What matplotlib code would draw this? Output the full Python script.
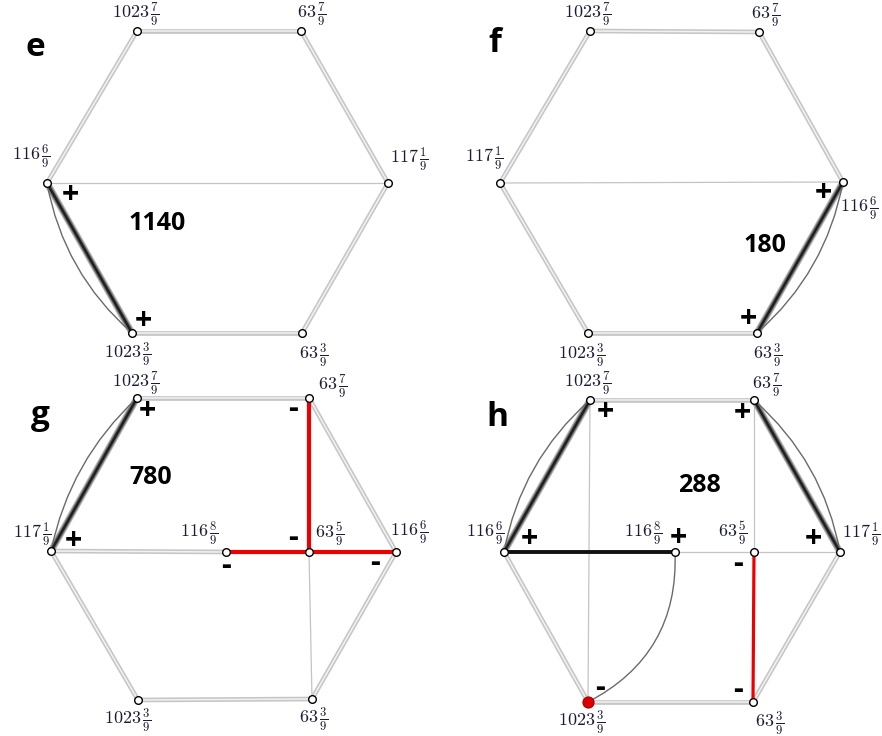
import numpy as np
import matplotlib
matplotlib.use('Agg')
import matplotlib.pyplot as plt
from matplotlib.path import Path
from matplotlib.patches import PathPatch

plt.rcParams['mathtext.fontset'] = 'cm'

# panel letters and the number written in each panel
panel_names = ['e', 'f', 'g', 'h']
panel_scores = ['1140', '180', '780', '288']

# node labels: whole part and ninths
node_whole = {'A': 1023, 'B': 63, 'C': 116, 'D': 117, 'E': 1023, 'F': 63, 'G': 116, 'H': 63}
node_ninths = {'A': 7, 'B': 7, 'C': 6, 'D': 1, 'E': 3, 'F': 3, 'G': 8, 'H': 5}

# edges of every panel: (node, node, kind, bulge)
e_edges = [('A', 'B', 'tube', 0), ('B', 'D', 'tube', 0), ('D', 'F', 'tube', 0),
           ('F', 'E', 'tube', 0), ('C', 'A', 'tube', 0), ('C', 'D', 'thin', 0),
           ('C', 'E', 'thick', 0), ('C', 'E', 'arc', 30)]
f_edges = [('A', 'B', 'tube', 0), ('B', 'C', 'tube', 0), ('D', 'A', 'tube', 0),
           ('D', 'E', 'tube', 0), ('E', 'F', 'tube', 0), ('D', 'C', 'thin', 0),
           ('C', 'F', 'thick', 0), ('C', 'F', 'arc', -30)]
g_edges = [('A', 'B', 'tube', 0), ('B', 'C', 'tube', 0), ('C', 'F', 'tube', 0),
           ('F', 'E', 'tube', 0), ('E', 'D', 'tube', 0), ('D', 'G', 'tube', 0),
           ('H', 'F', 'thin', 0), ('D', 'A', 'thick', 0), ('D', 'A', 'arc', -28),
           ('G', 'H', 'red', 0), ('H', 'C', 'red', 0), ('H', 'B', 'red', 0)]
h_edges = [('A', 'B', 'tube', 0), ('D', 'F', 'tube', 0), ('F', 'E', 'tube', 0),
           ('E', 'C', 'tube', 0), ('A', 'E', 'thin', 0), ('B', 'H', 'thin', 0),
           ('G', 'H', 'thin', 0), ('H', 'D', 'thin', 0),
           ('C', 'A', 'thick', 0), ('C', 'A', 'arc', -30),
           ('B', 'D', 'thick', 0), ('B', 'D', 'arc', -30),
           ('C', 'G', 'black', 0), ('H', 'F', 'redthin', 0), ('G', 'E', 'arc', -55)]
panel_edges = [e_edges, f_edges, g_edges, h_edges]

# signs: (text, x, y)
e_signs = [('+', 70, 195), ('+', 143, 321)]
f_signs = [('+', 823, 193), ('+', 748, 319)]
g_signs = [('+', 147, 411), ('+', 73, 541), ('-', 293, 409), ('-', 293, 538),
           ('-', 226, 566), ('-', 375, 563)]
h_signs = [('+', 605, 412), ('+', 742, 413), ('+', 529, 539), ('+', 678, 538),
           ('+', 813, 539), ('-', 600, 688), ('-', 738, 564), ('-', 738, 690)]
panel_signs = [e_signs, f_signs, g_signs, h_signs]

# ---- layout (pixel coordinates, y down) ----
panel_pos = [
    {'A': (137, 31), 'B': (301, 31), 'C': (47, 183), 'D': (388, 183), 'E': (132, 333), 'F': (302, 333)},
    {'A': (590, 31), 'B': (759, 32), 'D': (500, 183), 'C': (843, 182), 'E': (588, 333), 'F': (757, 333)},
    {'A': (137, 398), 'B': (309, 398), 'D': (51, 551), 'G': (226, 552), 'H': (309, 552),
     'C': (396, 552), 'E': (138, 700), 'F': (312, 699)},
    {'A': (590, 400), 'B': (754, 400), 'C': (504, 552), 'G': (675, 552), 'H': (754, 552),
     'D': (840, 552), 'E': (588, 702), 'F': (753, 702)},
]
# label offsets (dx, dy, ha, va)
panel_lab = [
    {'A': (-1, -3, 'center', 'bottom'), 'B': (-4, -3, 'left', 'bottom'),
     'C': (3, -13, 'right', 'bottom'), 'D': (2, -10, 'left', 'bottom'),
     'E': (-4, 7, 'center', 'top'), 'F': (-3, 8, 'left', 'top')},
    {'A': (-2, -3, 'center', 'bottom'), 'B': (-8, -3, 'left', 'bottom'),
     'D': (3, -11, 'right', 'bottom'), 'C': (-3, 12, 'left', 'top'),
     'E': (-6, 8, 'center', 'top'), 'F': (-4, 8, 'left', 'top')},
    {'A': (-1, -1, 'center', 'bottom'), 'B': (9, 2, 'left', 'bottom'),
     'D': (0, -3, 'right', 'bottom'), 'G': (-8, -5, 'right', 'bottom'),
     'H': (6, -4, 'left', 'bottom'), 'C': (-6, -6, 'left', 'bottom'),
     'E': (-10, 6, 'center', 'top'), 'F': (2, 6, 'center', 'top')},
    {'A': (-2, -3, 'center', 'bottom'), 'B': (13, -1, 'center', 'bottom'),
     'C': (0, -5, 'right', 'bottom'), 'G': (-13, -5, 'right', 'bottom'),
     'H': (-7, -5, 'right', 'bottom'), 'D': (2, -4, 'left', 'bottom'),
     'E': (-6, 6, 'center', 'top'), 'F': (17, 7, 'center', 'top')},
]
letter_pos = [(35, 47), (495, 43), (40, 415), (497, 417)]
score_pos = [(157, 223), (765, 245), (151, 478), (699, 486)]
red_nodes = [[], [], [], ['E']]

W, H = 882, 736
fig = plt.figure(figsize=(W / 100, H / 100), dpi=100)
ax = fig.add_axes([0, 0, 1, 1])
ax.set_xlim(0, W)
ax.set_ylim(H, 0)
ax.axis('off')

bold = dict(family='Open Sans', fontweight='bold', color='black')


def line(p, q, **kw):
    ax.plot([p[0], q[0]], [p[1], q[1]], solid_capstyle='butt', **kw)


def curve(p, q, bulge):
    p, q = np.array(p, float), np.array(q, float)
    d = q - p
    perp = np.array([-d[1], d[0]]) / np.hypot(*d)
    c = (p + q) / 2 + bulge * perp
    path = Path([p, c, q], [Path.MOVETO, Path.CURVE3, Path.CURVE3])
    ax.add_patch(PathPatch(path, fc='none', ec='#6a6a6a', lw=1.0, zorder=2))


for i in range(4):
    pos = panel_pos[i]
    for a, b, kind, bulge in panel_edges[i]:
        p, q = pos[a], pos[b]
        if kind == 'tube':
            line(p, q, color='#c6c6c6', lw=3.4, zorder=1)
            line(p, q, color='#f2f2f2', lw=1.1, zorder=1.1)
        elif kind == 'thin':
            line(p, q, color='#c4c4c4', lw=0.9, zorder=1)
        elif kind == 'thick':
            line(p, q, color='#b4b4b4', lw=5.0, zorder=2)
            line(p, q, color='#707070', lw=3.4, zorder=2.1)
            line(p, q, color='#202020', lw=1.8, zorder=2.2)
        elif kind == 'arc':
            curve(p, q, bulge)
        elif kind == 'red':
            line(p, q, color='#ee0000', lw=3.0, zorder=3)
        elif kind == 'redthin':
            line(p, q, color='#ee0000', lw=2.3, zorder=3)
        elif kind == 'black':
            line(p, q, color='#111111', lw=2.8, zorder=3)

    for n, (x, y) in pos.items():
        if n in red_nodes[i]:
            ax.plot(x, y, 'o', ms=8, mfc='#dd0000', mec='#aa0000', mew=0.8, zorder=5)
        else:
            ax.plot(x, y, 'o', ms=5.5, mfc='white', mec='black', mew=1.0, zorder=5)
        dx, dy, ha, va = panel_lab[i][n]
        txt = r'$%d\,\frac{%d}{9}$' % (node_whole[n], node_ninths[n])
        ax.text(x + dx, y + dy, txt, ha=ha, va=va, fontsize=13, color='#1c1c3a', zorder=6)

    for s, x, y in panel_signs[i]:
        ax.text(x, y, s, ha='center', va='center', fontsize=22, zorder=6, **bold)

    lx, ly = letter_pos[i]
    ax.text(lx, ly, panel_names[i], ha='center', va='center', fontsize=24, **bold)
    sx, sy = score_pos[i]
    ax.text(sx, sy, panel_scores[i], ha='center', va='center', fontsize=18, **bold)

fig.savefig('out.png', dpi=100, facecolor='white')
